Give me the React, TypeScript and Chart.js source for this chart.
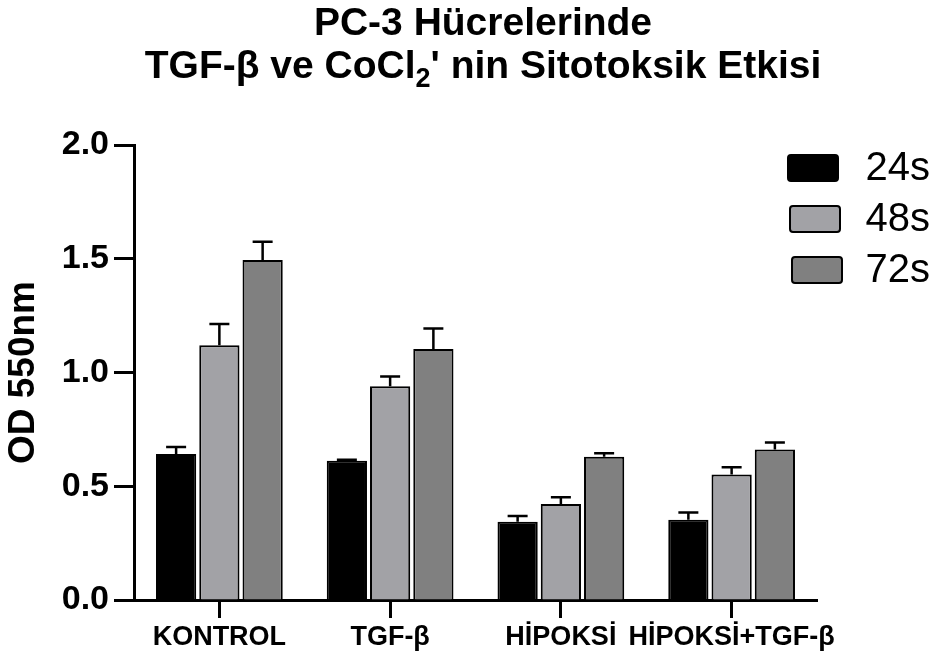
import React, { useEffect, useRef } from 'react';
import { Chart, registerables } from 'chart.js';

Chart.register(...registerables);

const categories = ['KONTROL', 'TGF-β', 'HİPOKSİ', 'HİPOKSİ+TGF-β'];
const seriesLabels = ['24s', '48s', '72s'];
const values24 = [0.642, 0.612, 0.344, 0.353];
const values48 = [1.12, 0.94, 0.422, 0.552];
const values72 = [1.495, 1.103, 0.63, 0.662];
const errors24 = [0.03, 0.005, 0.025, 0.032];
const errors48 = [0.093, 0.042, 0.03, 0.031];
const errors72 = [0.08, 0.09, 0.015, 0.03];
const seriesColors = ['#000000', '#a2a2a6', '#808080'];
const yMin = 0;
const yMax = 2.0;
const yStep = 0.5;
const titleLine1 = 'PC-3 Hücrelerinde';
const titleLine2Parts = ['TGF-β ve CoCl', '2', "' nin Sitotoksik Etkisi"];
const yAxisTitle = 'OD 550nm';

const FONT = '"Liberation Sans", Arial, Helvetica, sans-serif';

const errorBarPlugin = {
  id: 'errorBars',
  afterDatasetsDraw(chart: any) {
    const ctx = chart.ctx;
    const yScale = chart.scales.y;
    chart.data.datasets.forEach((ds: any, di: number) => {
      const meta = chart.getDatasetMeta(di);
      const errs: number[] = ds.errors || [];
      meta.data.forEach((bar: any, i: number) => {
        const v = ds.data[i];
        const e = errs[i] || 0;
        const yTop = yScale.getPixelForValue(v + e);
        const yBar = yScale.getPixelForValue(v);
        ctx.save();
        ctx.strokeStyle = '#000';
        ctx.lineWidth = 2.5;
        ctx.beginPath();
        ctx.moveTo(bar.x, yBar);
        ctx.lineTo(bar.x, yTop);
        ctx.moveTo(bar.x - 10, yTop);
        ctx.lineTo(bar.x + 10, yTop);
        ctx.stroke();
        ctx.restore();
      });
    });
  },
};

const titlePlugin = {
  id: 'customTitle',
  afterDraw(chart: any) {
    const ctx = chart.ctx;
    const cx = 483;
    ctx.save();
    ctx.fillStyle = '#000';
    ctx.textBaseline = 'alphabetic';
    const big = `bold 39px ${FONT}`;
    const small = `bold 27px ${FONT}`;
    ctx.font = big;
    ctx.textAlign = 'center';
    ctx.fillText(titleLine1, cx, 35);
    ctx.textAlign = 'left';
    ctx.font = big;
    const w0 = ctx.measureText(titleLine2Parts[0]).width;
    const w2 = ctx.measureText(titleLine2Parts[2]).width;
    ctx.font = small;
    const w1 = ctx.measureText(titleLine2Parts[1]).width;
    const total = w0 + w1 + w2;
    let x = cx - total / 2;
    const base = 78;
    ctx.font = big;
    ctx.fillText(titleLine2Parts[0], x, base);
    x += w0;
    ctx.font = small;
    ctx.fillText(titleLine2Parts[1], x, base + 9);
    x += w1;
    ctx.font = big;
    ctx.fillText(titleLine2Parts[2], x, base);
    ctx.restore();
  },
};

const legendPlugin = {
  id: 'customLegend',
  afterDraw(chart: any) {
    const ctx = chart.ctx;
    ctx.save();
    chart.data.datasets.forEach((ds: any, i: number) => {
      const bx = 788 + i * 2;
      const by = 155 + i * 51;
      const bw = 50;
      const bh = 26;
      ctx.beginPath();
      if (ctx.roundRect) ctx.roundRect(bx, by, bw, bh, 3);
      else ctx.rect(bx, by, bw, bh);
      ctx.fillStyle = ds.backgroundColor;
      ctx.fill();
      ctx.lineWidth = 2;
      ctx.strokeStyle = '#000';
      ctx.stroke();
      ctx.fillStyle = '#000';
      ctx.font = `40px ${FONT}`;
      ctx.textAlign = 'right';
      ctx.textBaseline = 'middle';
      ctx.fillText(ds.label, 930, by + bh / 2 + 1);
    });
    ctx.restore();
  },
};

export default function App() {
  const ref = useRef<HTMLCanvasElement | null>(null);
  useEffect(() => {
    document.body.style.margin = '0';
    const canvas = ref.current;
    if (!canvas) return;
    const valueSets = [values24, values48, values72];
    const errorSets = [errors24, errors48, errors72];
    const chart = new Chart(canvas, {
      type: 'bar',
      data: {
        labels: categories,
        datasets: seriesLabels.map((label, i) => ({
          label,
          data: valueSets[i],
          errors: errorSets[i],
          backgroundColor: seriesColors[i],
          borderColor: '#000',
          borderWidth: 2,
          borderSkipped: 'start',
          categoryPercentage: 0.76,
          barPercentage: 0.93,
        })) as any,
      },
      options: {
        responsive: false,
        animation: false,
        devicePixelRatio: 1,
        layout: { padding: { top: 145, right: 121, left: 0, bottom: 0 } },
        plugins: {
          legend: { display: false },
          title: { display: false },
          tooltip: { enabled: false },
        },
        scales: {
          x: {
            grid: {
              offset: false,
              drawOnChartArea: false,
              drawTicks: true,
              tickLength: 18,
              tickWidth: 3,
              tickColor: '#000',
            },
            border: { display: true, color: '#000', width: 3 },
            ticks: {
              color: '#000',
              font: { family: FONT, size: 27, weight: 'bold' },
              padding: 3,
              maxRotation: 0,
              autoSkip: false,
            },
            afterFit(scale: any) {
              scale.height = 62;
            },
          },
          y: {
            min: yMin,
            max: yMax,
            grid: {
              drawOnChartArea: false,
              drawTicks: true,
              tickLength: 20,
              tickWidth: 3,
              tickColor: '#000',
            },
            border: { display: true, color: '#000', width: 3 },
            ticks: {
              stepSize: yStep,
              color: '#000',
              font: { family: FONT, size: 34, weight: 'bold' },
              padding: 5,
              callback: (v: any) => Number(v).toFixed(1),
            },
            title: {
              display: true,
              text: yAxisTitle,
              color: '#000',
              font: { family: FONT, size: 37, weight: 'bold' },
              padding: { top: 2, bottom: 0 },
            },
            afterFit(scale: any) {
              scale.width = 134;
            },
          },
        },
      } as any,
      plugins: [errorBarPlugin, titlePlugin, legendPlugin],
    });
    return () => chart.destroy();
  }, []);
  return (
    <div style={{ width: 938, height: 662 }}>
      <canvas ref={ref} width={938} height={662} style={{ display: 'block' }} />
    </div>
  );
}
